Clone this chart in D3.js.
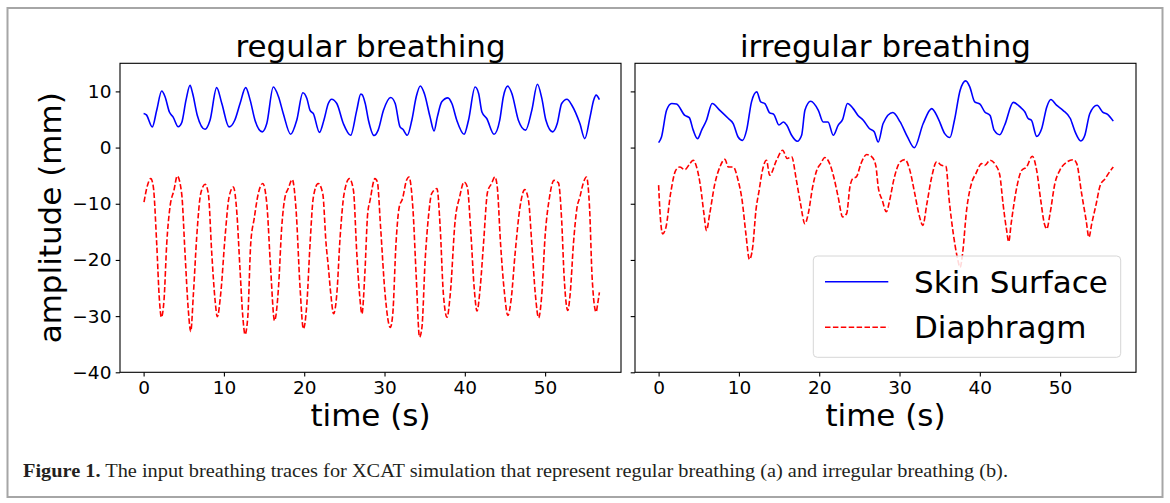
<!DOCTYPE html>
<html>
<head>
<meta charset="utf-8">
<script src="https://cdn.jsdelivr.net/npm/d3@7"></script>
<style>
  html, body { margin: 0; padding: 0; background: #fff; }
  svg { display: block; }
</style>
</head>
<body>
<svg id="chart" width="1170" height="503"></svg>
<script>
// ---------------- data ----------------
const panelTitles = ["regular breathing", "irregular breathing"];
const seriesNames = ["Skin Surface", "Diaphragm"];
const xTicks = [0, 10, 20, 30, 40, 50];
const yTicks = [10, 0, -10, -20, -30, -40];
const xLabel = "time (s)";
const yLabel = "amplitude (mm)";

// regular breathing: time (s)
const regSkinT = [0.0,0.35,1.08,1.63,2.25,2.67,3.21,3.68,4.32,4.74,5.28,5.78,6.1,6.69,7.65,8.27,9.1,9.74,10.64,11.35,12.01,12.71,13.27,13.87,14.78,15.34,16.15,16.8,17.4,18.31,19.07,19.83,20.33,20.73,21.14,21.9,22.45,23.0,23.41,24.06,24.87,25.78,26.54,27.04,27.19,27.6,28.0,28.7,29.21,29.87,30.77,31.33,31.93,32.29,32.84,33.4,33.95,34.46,34.96,35.67,36.17,36.58,37.13,37.89,38.39,39.0,39.91,40.46,41.28,41.72,42.13,42.73,43.64,44.35,44.8,45.35,45.86,46.67,47.57,48.34,49.04,49.59,50.1,50.95,51.51,52.06,52.72,53.33,54.33,54.94,55.6,56.05,56.35,56.76];
const regSkinV = [6.07,5.82,3.68,6.63,10.06,9.05,6.33,5.42,3.7,4.41,8.45,11.07,9.66,5.72,3.26,4.87,10.67,7.84,3.68,4.87,7.84,10.67,8.45,4.87,2.8,4.28,10.77,9.05,6.03,2.37,4.87,9.76,8.75,6.63,6.03,2.7,4.87,7.84,8.61,7.84,4.28,2.19,6.63,9.51,9.46,7.84,4.87,2.14,3.1,6.63,8.91,7.84,3.68,3.26,2.19,4.87,9.05,10.97,9.63,5.46,2.96,5.46,8.14,8.85,7.84,4.87,2.37,4.87,10.77,9.63,6.33,5.17,2.37,4.87,9.05,10.93,9.63,4.87,3.1,6.63,11.27,8.75,4.87,2.8,4.28,7.84,8.61,7.54,4.28,1.59,5.46,8.45,9.33,8.55];

const regDiaT = [0.05,0.38,0.89,1.21,1.63,1.97,2.21,2.54,2.88,3.28,3.78,4.19,4.74,5.16,5.57,5.87,6.2,6.61,7.11,7.65,8.06,8.49,8.9,9.18,9.6,10.14,10.64,11.18,11.59,12.01,12.36,12.63,12.97,13.34,13.77,14.28,14.84,15.34,15.83,16.3,16.8,17.2,17.61,18.01,18.51,18.99,19.48,19.9,20.33,20.73,21.14,21.74,22.31,22.72,23.01,23.31,23.66,24.06,24.47,24.97,25.63,26.13,26.55,26.89,27.19,27.55,27.9,28.2,28.81,29.11,29.51,30.07,30.72,31.03,31.43,31.83,32.24,32.74,33.04,33.55,33.95,34.36,34.66,35.06,35.47,35.87,36.53,36.93,37.33,37.79,38.19,38.8,39.35,39.91,40.31,40.76,41.16,41.52,41.92,42.33,42.83,43.34,43.74,44.04,44.45,44.95,45.35,45.76,46.26,46.87,47.47,47.93,48.34,48.78,49.19,49.59,49.99,50.55,51.11,51.66,52.06,52.37,52.82,53.12,53.53,53.98,54.33,54.74,55.14,55.55,55.85,56.35,56.55,56.76];
const regDiaV = [-9.72,-7.29,-5.53,-6.99,-17.08,-27.17,-30.2,-27.17,-17.08,-10.62,-7.6,-5.07,-8.2,-18.9,-28.99,-32.72,-26.06,-15.97,-8.2,-6.54,-8.2,-18.9,-27.17,-30.1,-26.06,-15.97,-8.81,-7.02,-11.18,-21.82,-30.2,-33.27,-30.2,-17.08,-12.64,-8.2,-6.39,-9.98,-21.82,-30.8,-24.85,-14.15,-8.81,-7.29,-5.68,-11.18,-24.85,-32.27,-27.78,-17.08,-8.81,-6.39,-8.2,-17.08,-21.32,-26.06,-29.59,-26.06,-15.97,-8.2,-5.53,-7.6,-18.9,-26.06,-29.59,-22.43,-11.83,-9.41,-5.53,-6.13,-14.15,-26.06,-32.01,-29.59,-17.08,-10.62,-9.11,-5.83,-5.23,-11.18,-23.03,-33.73,-32.01,-20.11,-12.34,-8.2,-7.29,-14.15,-26.06,-30.2,-26.06,-12.94,-8.81,-6.13,-7.02,-15.37,-24.85,-29.09,-24.85,-17.08,-7.9,-6.39,-5.23,-7.02,-17.08,-26.06,-29.89,-27.17,-18.9,-10.62,-7.49,-9.41,-17.08,-26.06,-30.3,-26.06,-15.97,-8.81,-5.83,-6.28,-12.94,-23.03,-28.99,-26.06,-17.08,-10.62,-8.81,-6.39,-5.23,-11.18,-23.03,-29.29,-27.78,-25.76];

// irregular breathing
const irrSkinT = [0,0.36,0.99,1.63,2.23,3.27,3.82,4.31,4.85,5.36,5.96,6.67,7.63,8.69,9.29,9.9,10.46,10.96,11.57,12.22,12.72,13.23,13.83,14.34,14.98,15.55,15.95,16.56,17.27,17.81,18.22,18.93,19.89,20.49,21.1,21.75,22.37,22.92,23.52,24.23,24.83,25.49,26.24,26.85,27.35,27.96,29.17,30.08,30.99,31.84,32.95,34.01,34.82,35.63,36.28,36.84,37.55,38.25,38.76,39.36,40.02,40.62,41.28,41.78,42.49,43.1,44.17,45.01,45.62,46.02,46.43,47.08,47.71,48.34,48.85,49.55,50.36,51.27,51.87,52.58,53.08,53.69,54.6,55.3,55.91,56.62];
const irrSkinV = [0.88,1.89,6.63,7.84,7.74,5.72,5.32,3.1,1.59,3.1,4.87,7.84,6.63,5.17,4.28,1.89,1.28,3.1,8.14,9.91,8.14,7.84,6.18,5.92,4.01,4.56,4.01,2.19,1.12,2.19,6.63,8.25,6.63,4.56,4.56,2.19,4.01,5.02,7.84,6.93,5.72,4.87,3.4,2.8,0.98,4.28,6.23,4.56,1.89,-0.03,4.28,6.93,5.17,2.49,1.79,4.87,10.21,11.88,10.77,8.14,7.74,6.33,5.72,3.1,2.29,4.01,8.04,7.24,6.33,5.17,4.87,1.99,3.4,7.24,8.55,7.54,6.63,5.17,2.8,1.18,2.19,6.03,7.54,6.33,5.92,4.71];

const irrDiaT = [0,0.16,0.5,0.92,1.49,2.13,2.63,3.27,3.9,4.31,4.73,5.23,5.64,5.96,6.37,7.01,7.63,8.25,8.69,9.29,9.9,10.4,10.87,11.31,11.72,12.12,12.52,12.93,13.43,13.83,14.69,15.45,16.01,16.56,17.16,17.67,18.22,18.64,19.18,19.69,20.19,20.7,21.3,21.81,22.36,22.92,23.42,23.82,24.17,24.63,25.2,25.91,26.55,27.05,27.35,27.86,28.36,28.77,29.27,30.08,30.68,31.29,31.9,32.5,32.9,33.41,34.01,34.62,35.23,35.78,36.19,36.7,37.19,37.55,37.85,38.35,38.96,39.51,40.22,40.62,41.28,41.99,42.49,42.89,43.34,43.6,43.9,44.61,45.21,45.82,46.53,47.08,47.59,48.04,48.34,48.75,49.35,49.96,50.86,51.67,52.07,52.68,53.24,53.59,53.94,54.5,55.0,55.61,56.01,56.62];
const irrDiaV = [-6.69,-11.18,-15.37,-14.15,-8.2,-4.06,-3.46,-3.92,-2.85,-2.25,-3.46,-7.02,-11.73,-14.76,-11.73,-6.39,-3.46,-2.09,-3.46,-3.46,-5.83,-9.41,-15.37,-19.91,-17.69,-11.18,-7.6,-4.06,-2.25,-4.93,-2.25,-0.48,-1.95,-1.64,-5.83,-9.98,-13.55,-11.73,-7.02,-4.06,-2.85,-1.78,-2.85,-5.23,-8.81,-12.34,-11.73,-7.02,-5.53,-5.23,-2.85,-1.24,-1.64,-3.26,-7.02,-9.41,-11.43,-9.41,-5.83,-2.55,-2.15,-4.06,-8.2,-12.34,-13.85,-9.98,-5.23,-2.55,-3.16,-3.36,-9.41,-15.37,-19.5,-21.32,-18.9,-11.18,-6.39,-4.63,-2.85,-3.16,-2.25,-3.16,-4.93,-9.98,-14.76,-16.78,-13.55,-7.02,-4.06,-3.46,-1.54,-4.06,-9.41,-13.55,-14.46,-11.73,-6.39,-4.06,-2.55,-2.15,-2.85,-8.2,-12.94,-15.97,-13.55,-9.98,-6.69,-5.53,-4.63,-3.46];

const panelsData = [
  { title: panelTitles[0], skin: { t: regSkinT, v: regSkinV }, dia: { t: regDiaT, v: regDiaV } },
  { title: panelTitles[1], skin: { t: irrSkinT, v: irrSkinV }, dia: { t: irrDiaT, v: irrDiaV } }
];

// ---------------- layout ----------------
const svg = d3.select("#chart");
const FONT = "DejaVu Sans, sans-serif";
const yTop = 63.3, yBottom = 372.3;
const panelX = [[120, 621], [635, 1136]];
const xDomain = [-2.94, 59.45];
const yDomain = [-40, 15];
const y = d3.scaleLinear().domain(yDomain).range([yBottom, yTop]);

// outer frame
svg.append("rect").attr("x", 7.5).attr("y", 8).attr("width", 1155).attr("height", 489)
  .attr("fill", "none").attr("stroke", "#a6a6a6").attr("stroke-width", 2);

panelsData.forEach((p, i) => {
  const [x0, x1] = panelX[i];
  const x = d3.scaleLinear().domain(xDomain).range([x0, x1]);
  const g = svg.append("g");

  const line = d3.line().x(d => x(d[0])).y(d => y(d[1])).curve(d3.curveMonotoneX);
  const skin = p.skin.t.map((t, k) => [t, p.skin.v[k]]);
  const dia = p.dia.t.map((t, k) => [t, p.dia.v[k]]);

  const clipId = "clip" + i;
  svg.append("clipPath").attr("id", clipId).append("rect")
    .attr("x", x0).attr("y", yTop).attr("width", x1 - x0).attr("height", yBottom - yTop);

  const plot = g.append("g").attr("clip-path", `url(#${clipId})`);
  plot.append("path").datum(skin).attr("d", line)
    .attr("fill", "none").attr("stroke", "#0000ff").attr("stroke-width", 1.6)
    .attr("stroke-linejoin", "round");
  plot.append("path").datum(dia).attr("d", line)
    .attr("fill", "none").attr("stroke", "#ff0000").attr("stroke-width", 1.6)
    .attr("stroke-dasharray", "5.5,2.4");

  // spines
  g.append("rect").attr("x", x0).attr("y", yTop).attr("width", x1 - x0).attr("height", yBottom - yTop)
    .attr("fill", "none").attr("stroke", "#000").attr("stroke-width", 1.1);

  // x axis
  const xAxis = d3.axisBottom(x).tickValues(xTicks).tickSize(4.3).tickPadding(4.3).tickFormat(d3.format("d"));
  const xg = g.append("g").attr("transform", `translate(0,${yBottom})`).call(xAxis);
  xg.select(".domain").remove();
  xg.selectAll("line").attr("stroke", "#000").attr("stroke-width", 1.1);
  xg.selectAll("text").attr("font-family", FONT).attr("font-size", 18.5).attr("fill", "#000");

  // y axis (labels only on first panel)
  const yAxis = d3.axisLeft(y).tickValues(yTicks).tickSize(4.3).tickPadding(4.3)
    .tickFormat(i === 0 ? d3.format("d") : () => "");
  const yg = g.append("g").attr("transform", `translate(${x0},0)`).call(yAxis);
  yg.select(".domain").remove();
  yg.selectAll("line").attr("stroke", "#000").attr("stroke-width", 1.1);
  yg.selectAll("text").attr("font-family", FONT).attr("font-size", 18.5).attr("fill", "#000");

  // title
  g.append("text").attr("x", (x0 + x1) / 2).attr("y", 56.5).attr("text-anchor", "middle")
    .attr("font-family", FONT).attr("font-size", 31).attr("fill", "#000").text(p.title);

  // x label
  g.append("text").attr("x", (x0 + x1) / 2).attr("y", 426).attr("text-anchor", "middle")
    .attr("font-family", FONT).attr("font-size", 31).attr("fill", "#000").text(xLabel);

  if (i === 0) {
    g.append("text").attr("transform", `translate(61,${(yTop + yBottom) / 2}) rotate(-90)`)
      .attr("text-anchor", "middle").attr("font-family", FONT).attr("font-size", 31)
      .attr("fill", "#000").text(yLabel);
  }

  if (i === 1) {
    const lg = g.append("g");
    lg.append("rect").attr("x", 813.3).attr("y", 256).attr("width", 307.4).attr("height", 101.3)
      .attr("rx", 4).attr("fill", "#fff").attr("fill-opacity", 0.85)
      .attr("stroke", "#d6d6d6").attr("stroke-width", 1);
    const items = [
      { name: seriesNames[0], color: "#0000ff", dash: null, yy: 281.7 },
      { name: seriesNames[1], color: "#ff0000", dash: "5.5,2.4", yy: 327.3 }
    ];
    items.forEach(it => {
      const ln = lg.append("line").attr("x1", 825).attr("x2", 888.3).attr("y1", it.yy).attr("y2", it.yy)
        .attr("stroke", it.color).attr("stroke-width", 1.6);
      if (it.dash) ln.attr("stroke-dasharray", it.dash);
      lg.append("text").attr("x", 914).attr("y", it.yy + 10.8)
        .attr("font-family", FONT).attr("font-size", 31).attr("fill", "#000").text(it.name);
    });
  }
});

// caption
const cap = svg.append("text").attr("x", 23).attr("y", 477)
  .attr("font-family", "Liberation Serif, serif").attr("font-size", 19.5).attr("fill", "#231f20")
  .attr("textLength", 985).attr("lengthAdjust", "spacingAndGlyphs");
cap.append("tspan").attr("font-weight", "bold").text("Figure 1.");
cap.append("tspan").text(" The input breathing traces for XCAT simulation that represent regular breathing (a) and irregular breathing (b).");
</script>
</body>
</html>
